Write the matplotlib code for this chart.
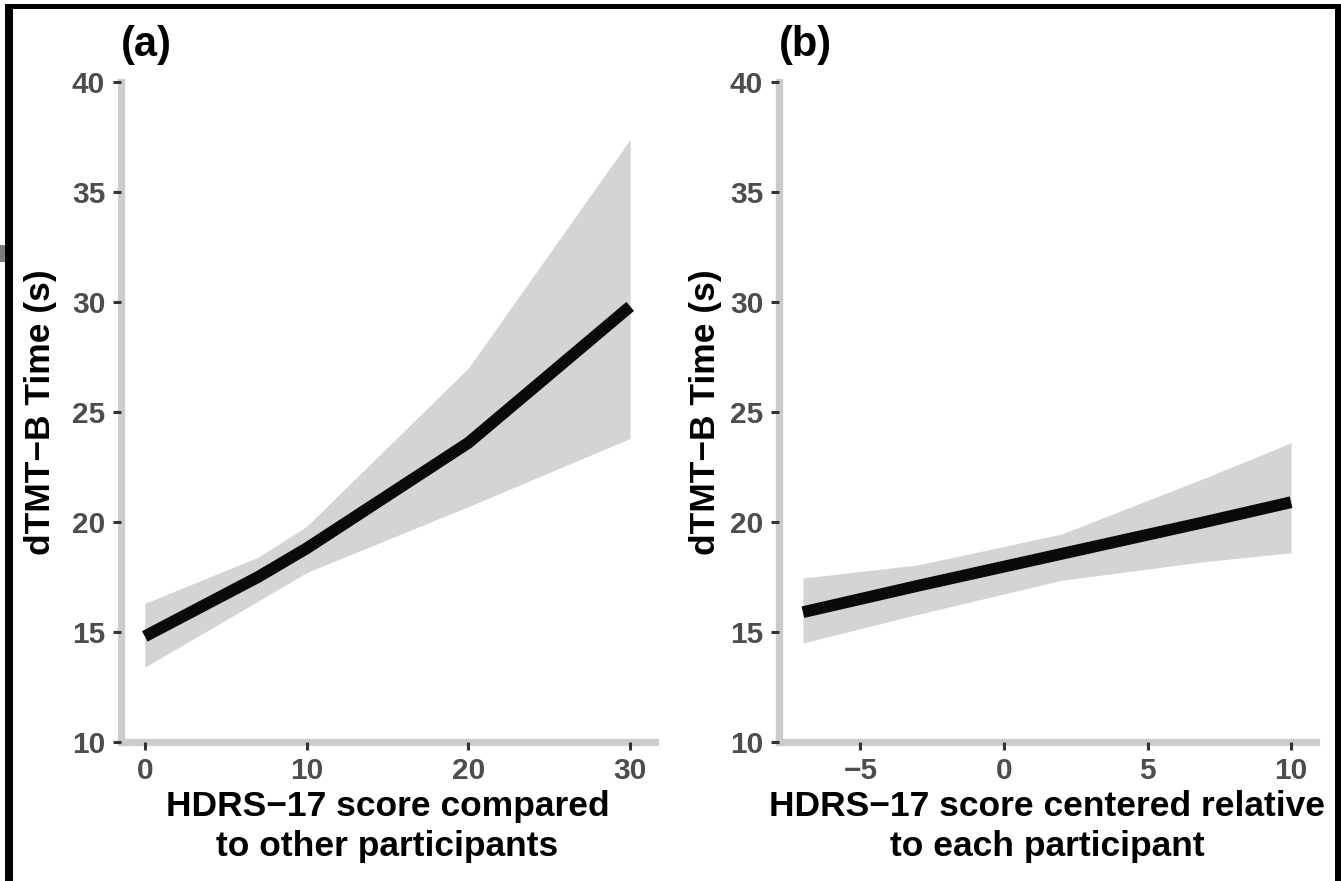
import matplotlib
matplotlib.use("Agg")
import matplotlib.pyplot as plt
from matplotlib.patches import Rectangle

plt.rcParams['font.family'] = ['Liberation Sans', 'DejaVu Sans']

# panel (a): HDRS-17 compared to other participants
a_x = [0, 7, 10, 20, 30]
a_fit = [14.8, 17.5, 18.8, 23.6, 29.8]
a_lo = [13.4, 16.4, 17.7, 20.7, 23.8]
a_hi = [16.3, 18.4, 19.8, 27.0, 37.4]

# panel (b): HDRS-17 centered within participant
b_x = [-7, -3, 2, 7, 10]
b_fit = [15.9, 17.1, 18.55, 20.0, 20.9]
b_lo = [14.5, 15.8, 17.35, 18.2, 18.6]
b_hi = [17.45, 18.05, 19.45, 22.0, 23.6]

y_ticks = [10, 15, 20, 25, 30, 35, 40]
a_ticks = [0, 10, 20, 30]
b_ticks = [-5, 0, 5, 10]

ylab = "dTMT\u2212B Time (s)"
a_xlab = "HDRS\u221217 score compared\nto other participants"
b_xlab = "HDRS\u221217 score centered relative\nto each participant"

W, H = 1341, 881
fig = plt.figure(figsize=(W / 100, H / 100), dpi=100)

ax1 = fig.add_axes([120.5 / W, 1 - 742 / H, 534 / W, 660 / H])
ax2 = fig.add_axes([778.5 / W, 1 - 742 / H, 537 / W, 660 / H])


def style(ax, x, fit, lo, hi, xticks, xlim, xlab, title, ylab_x):
    ax.fill_between(x, lo, hi, color='#d4d4d4', lw=0)
    ax.plot(x, fit, color='#0a0a0a', lw=8.5, solid_capstyle='butt')
    ax.set_xlim(*xlim)
    ax.set_ylim(10, 40)
    ax.set_xticks(xticks)
    ax.set_yticks(y_ticks)
    for s in ['top', 'right']:
        ax.spines[s].set_visible(False)
    for s in ['left', 'bottom']:
        ax.spines[s].set_color('#cccccc')
        ax.spines[s].set_linewidth(5.2)
        ax.spines[s].set_capstyle('projecting')
    ax.set_axisbelow(False)
    ax.tick_params(length=6, width=2.2, color='#333333', pad=5,
                   labelsize=21.5, labelcolor='#4d4d4d')
    for lab in ax.get_xticklabels() + ax.get_yticklabels():
        lab.set_fontweight('bold')
    ax.set_xlabel(xlab, fontsize=25.5, fontweight='bold', color='black',
                  linespacing=1.3)
    ax.xaxis.set_label_coords(0.5, -0.072)
    ax.set_ylabel(ylab, fontsize=25.5, fontweight='bold', color='black')
    ax.yaxis.set_label_coords(ylab_x, 0.5)
    ax.set_title(title, loc='left', fontsize=30, fontweight='bold', pad=19)


style(ax1, a_x, a_fit, a_lo, a_hi, a_ticks, (-1.5, 31.5), a_xlab, '(a)', -0.118)
style(ax2, b_x, b_fit, b_lo, b_hi, b_ticks, (-7.85, 10.85), b_xlab, '(b)', -0.105)

# black frame around the figure and the small grey mark on the left
fig.add_artist(Rectangle((5 / W, 0), 7.5 / W, 1 - 4 / H,
                         transform=fig.transFigure, color='black', lw=0))
fig.add_artist(Rectangle((5 / W, 1 - 8.5 / H), 1 - 5 / W, 4.5 / H,
                         transform=fig.transFigure, color='black', lw=0))
fig.add_artist(Rectangle((1335 / W, 0), 6 / W, 1 - 4 / H,
                         transform=fig.transFigure, color='black', lw=0))
fig.add_artist(Rectangle((0, 1 - 262 / H), 5 / W, 17 / H,
                         transform=fig.transFigure, color='#7f7f7f', lw=0))

fig.savefig('out.png', dpi=100)
